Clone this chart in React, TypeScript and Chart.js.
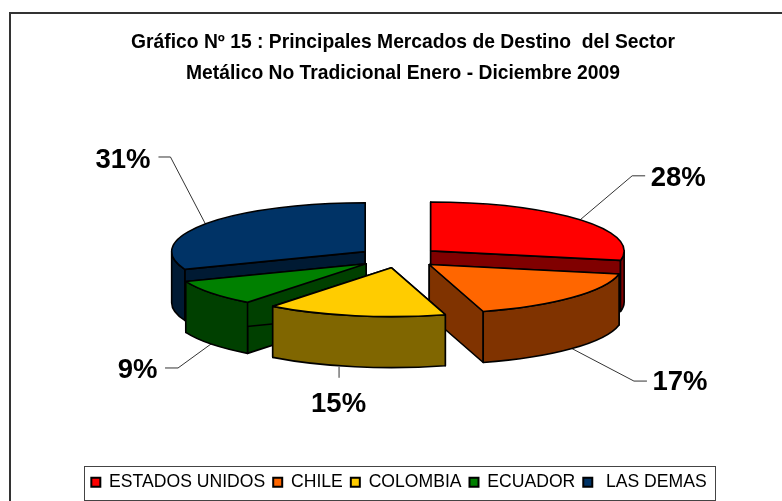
import React, { useEffect, useRef } from "react";
import { Chart, registerables } from "chart.js";

Chart.register(...registerables);

const categories = ["ESTADOS UNIDOS", "CHILE", "COLOMBIA", "ECUADOR", " LAS DEMAS"];
const shares = [28.1, 17.4, 15.0, 8.6, 30.9];
const topColors = ["#ff0000", "#ff6600", "#ffcc00", "#008000", "#003366"];
const sideColors = ["#800000", "#803300", "#806600", "#004000", "#001a33"];
const titleLines = [
  "Gráfico Nº 15 : Principales Mercados de Destino  del Sector",
  "Metálico No Tradicional Enero - Diciembre 2009",
];

const FONT = "'Liberation Sans', Arial, sans-serif";
const SQUASH = 0.253;
const DEPTH = 51;
const EXPLODE = 41;
const CY_TARGET = 257.5;
const TITLE_SHIFT = 4;
const paintOrder = [0, 4, 3, 1, 2];
// leader shape and label centre relative to each slice's rim anchor
const leaders = [
  { sx: 0, lx: 98, ly: -41.5, ex: 52, ey: -44, tx: 65, ty: -44 },
  { sx: 0, lx: 108, ly: 34, ex: 62, ey: 32.5, tx: 75, ty: 32.5 },
  { sx: -16, lx: -16.5, ly: 38, ex: -16, ey: 11, tx: -16, ty: 11 },
  { sx: 0, lx: -73.5, ly: 26.5, ex: -33, ey: 24, tx: -46, ty: 24 },
  { sx: 0, lx: -82.5, ly: -63.5, ex: -35, ey: -67, tx: -47, ty: -67 },
];

const pie3d = {
  id: "pie3d",
  afterLayout(chart: any) {
    chart.titleBlock.left += TITLE_SHIFT;
    chart.titleBlock.right += TITLE_SHIFT;
  },
  beforeDatasetDraw(chart: any) {
    const ctx = chart.ctx as CanvasRenderingContext2D;
    const arcs = chart.getDatasetMeta(0).data;

    // outer frame: only the top and left edges are visible
    ctx.save();
    ctx.strokeStyle = "#333333";
    ctx.lineWidth = 2;
    ctx.beginPath();
    ctx.moveTo(10, 501);
    ctx.lineTo(10, 13);
    ctx.lineTo(782, 13);
    ctx.stroke();
    ctx.restore();

    const geom = arcs.map((a: any) => {
      const p = a.getProps(["x", "y", "startAngle", "endAngle", "outerRadius"], true);
      const mid = (p.startAngle + p.endAngle) / 2;
      const cx = p.x + Math.cos(mid) * EXPLODE;
      const cy = CY_TARGET + Math.sin(mid) * EXPLODE * SQUASH;
      return { ...p, mid, cx, cy, rx: p.outerRadius, ry: p.outerRadius * SQUASH };
    });

    // leaders and labels
    ctx.save();
    ctx.font = `bold 27.5px ${FONT}`;
    ctx.textAlign = "center";
    ctx.textBaseline = "middle";
    geom.forEach((g: any, i: number) => {
      const s = Math.sin(g.mid);
      const dz = s > 0 ? DEPTH : 0;
      const ax = g.cx + g.rx * Math.cos(g.mid);
      const ay = g.cy + g.ry * s + dz;
      const L = leaders[i];
      ctx.strokeStyle = "#333";
      ctx.lineWidth = 1;
      ctx.beginPath();
      ctx.moveTo(ax + L.sx, ay);
      ctx.lineTo(ax + L.ex, ay + L.ey);
      ctx.lineTo(ax + L.tx, ay + L.ty);
      ctx.stroke();
      ctx.fillStyle = "#000";
      ctx.fillText(`${Math.round(shares[i])}%`, ax + L.lx, ay + L.ly);
    });
    ctx.restore();

    ctx.save();
    ctx.lineJoin = "round";
    ctx.lineWidth = 1.6;
    ctx.strokeStyle = "#000";
    for (const i of paintOrder) {
      const g = geom[i];
      const pt = (t: number) => [g.cx + g.rx * Math.cos(t), g.cy + g.ry * Math.sin(t)];
      ctx.fillStyle = sideColors[i];
      // cut faces
      for (const t of [g.startAngle, g.endAngle]) {
        const [x, y] = pt(t);
        ctx.beginPath();
        ctx.moveTo(g.cx, g.cy);
        ctx.lineTo(x, y);
        ctx.lineTo(x, y + DEPTH);
        ctx.lineTo(g.cx, g.cy + DEPTH);
        ctx.closePath();
        ctx.fill();
        ctx.stroke();
      }
      // curved wall, only the part that faces the viewer
      const twoPi = Math.PI * 2;
      const ranges: [number, number][] = [];
      for (let k = -1; k <= 1; k++) {
        const lo = Math.max(g.startAngle, k * twoPi);
        const hi = Math.min(g.endAngle, k * twoPi + Math.PI);
        if (hi > lo) ranges.push([lo, hi]);
      }
      for (const [lo, hi] of ranges) {
        ctx.beginPath();
        ctx.ellipse(g.cx, g.cy, g.rx, g.ry, 0, lo, hi);
        ctx.ellipse(g.cx, g.cy + DEPTH, g.rx, g.ry, 0, hi, lo, true);
        ctx.closePath();
        ctx.fill();
        ctx.stroke();
      }
      // top
      ctx.fillStyle = topColors[i];
      ctx.beginPath();
      ctx.moveTo(g.cx, g.cy);
      ctx.ellipse(g.cx, g.cy, g.rx, g.ry, 0, g.startAngle, g.endAngle);
      ctx.closePath();
      ctx.fill();
      ctx.stroke();
    }
    ctx.restore();
    return false;
  },
  afterDraw(chart: any) {
    const ctx = chart.ctx as CanvasRenderingContext2D;
    const boxes = chart.legend.legendHitBoxes;
    const first = boxes[0];
    const last = boxes[boxes.length - 1];
    const mid = first.top + first.height / 2;
    ctx.save();
    ctx.strokeStyle = "#444";
    ctx.lineWidth = 1;
    ctx.strokeRect(
      Math.round(first.left - 7) + 0.5,
      Math.round(mid - 16) + 0.5,
      Math.round(last.left + last.width - first.left + 16),
      34
    );
    ctx.restore();
  },
};

export default function App() {
  const ref = useRef<HTMLCanvasElement>(null);
  useEffect(() => {
    document.body.style.margin = "0";
    const chart = new Chart(ref.current!, {
      type: "pie",
      data: {
        labels: categories,
        datasets: [
          {
            data: shares,
            backgroundColor: topColors,
            borderColor: "#000",
            borderWidth: 2,
          },
        ],
      },
      plugins: [pie3d],
      options: {
        responsive: false,
        animation: false,
        radius: 193.5,
        layout: { padding: { top: 14, left: 16, right: 0, bottom: 0 } },
        plugins: {
          tooltip: { enabled: false },
          title: {
            display: true,
            text: titleLines,
            color: "#000",
            font: { family: FONT, size: 19.3, weight: "bold", lineHeight: 1.6 },
            padding: { top: 13, bottom: 8 },
          },
          legend: {
            position: "bottom",
            labels: {
              color: "#000",
              font: { family: FONT, size: 17.6 },
              boxWidth: 9,
              boxHeight: 9,
              padding: 8,
            },
          },
        },
      } as any,
    });
    return () => chart.destroy();
  }, []);
  return <canvas ref={ref} width={782} height={501} style={{ display: "block" }} />;
}
